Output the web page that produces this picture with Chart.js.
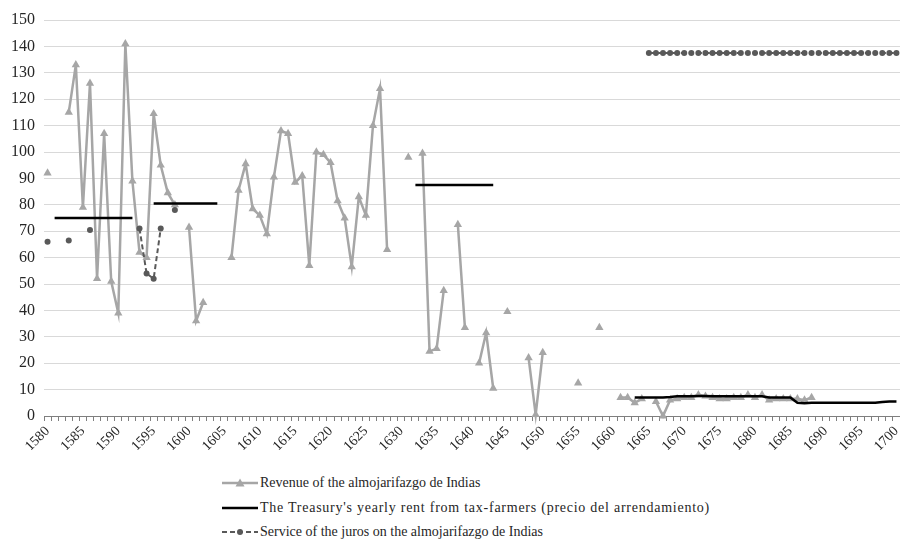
<!DOCTYPE html>
<html>
<head>
<meta charset="utf-8">
<script src="https://cdn.jsdelivr.net/npm/chart.js@4/dist/chart.umd.min.js"></script>
<style>
  html, body { margin: 0; padding: 0; background: #fff; }
  #wrap { position: relative; width: 900px; height: 544px; }
  #c { position: absolute; left: 0; top: 0; }
  #legend { position: absolute; left: 222px; top: 471px; font-family: "Liberation Serif", "DejaVu Serif", serif; font-size: 14px; color: #262626; }
  .row { height: 24.5px; display: flex; align-items: center; white-space: nowrap; }
  .row svg { margin-right: 2px; }
  .row.wide span { letter-spacing: 0.75px; }
</style>
</head>
<body>
<div id="wrap">
  <canvas id="c" width="900" height="450"></canvas>
  <div id="legend"></div>
</div>
<script>
const years = [];
for (let y = 1580; y <= 1700; y++) years.push(String(y));

const yTicks = [0, 10, 20, 30, 40, 50, 60, 70, 80, 90, 100, 110, 120, 130, 140, 150];

const seriesNames = [
  "Revenue of the almojarifazgo de Indias",
  "The Treasury's yearly rent from tax-farmers (precio del arrendamiento)",
  "Service of the juros on the almojarifazgo de Indias"
];

const revenue = [
  92, null, null, 115, 133, 79, 126, 52, 107, 51,
  39, 141, 89, 62, 60, 114.5, 95, 84.5, 80, null,
  71.5, 36, 43, null, null, null, 60, 85.5, 95.5, 78.5,
  76, 69, 90.5, 108, 107, 88.5, 91, 57, 100, 99,
  96, 81.5, 75, 56.5, 83, 76, 110, 124, 63, null,
  null, 98, null, 99.5, 24.5, 25.5, 47.5, null, 72.5, 33.5,
  null, 20, 31.5, 10.5, null, 39.5, null, null, 22, 0.5,
  24, null, null, null, null, 12.5, null, null, 33.5, null,
  null, 7, 7, 5, 6.5, null, 5.5, 0, 6, 6.5,
  7, 7, 8, 7.5, 7, 6.5, 6.5, 7, 7, 8,
  7, 8, 6, 6.5, 6.5, 6.5, 6.5, 6, 7, null,
  null, null, null, null, null, null, null, null, null, null,
  null
];

const rent = [
  null, 75, 75, 75, 75, 75, 75, 75, 75, 75,
  75, 75, 75, null, null, 80.5, 80.5, 80.5, 80.5, 80.5,
  80.5, 80.5, 80.5, 80.5, 80.5, null, null, null, null, null,
  null, null, null, null, null, null, null, null, null, null,
  null, null, null, null, null, null, null, null, null, null,
  null, null, 87.5, 87.5, 87.5, 87.5, 87.5, 87.5, 87.5, 87.5,
  87.5, 87.5, 87.5, 87.5, null, null, null, null, null, null,
  null, null, null, null, null, null, null, null, null, null,
  null, null, null, 7, 7, 7, 7, 7, 7.2, 7.5,
  7.5, 7.5, 7.6, 7.6, 7.5, 7.5, 7.5, 7.5, 7.5, 7.5,
  7.5, 7.5, 7, 7, 7, 7, 5, 4.8, 5, 5,
  5, 5, 5, 5, 5, 5, 5, 5, 5.3, 5.5,
  5.5
];

const juros = [
  66, null, null, 66.5, null, null, 70.5, null, null, null,
  null, null, null, 71, 54, 52, 71, null, 78, null,
  null, null, null, null, null, null, null, null, null, null,
  null, null, null, null, null, null, null, null, null, null,
  null, null, null, null, null, null, null, null, null, null,
  null, null, null, null, null, null, null, null, null, null,
  null, null, null, null, null, null, null, null, null, null,
  null, null, null, null, null, null, null, null, null, null,
  null, null, null, null, null, 137.5, 137.5, 137.5, 137.5, 137.5,
  137.5, 137.5, 137.5, 137.5, 137.5, 137.5, 137.5, 137.5, 137.5, 137.5,
  137.5, 137.5, 137.5, 137.5, 137.5, 137.5, 137.5, 137.5, 137.5, 137.5,
  137.5, 137.5, 137.5, 137.5, 137.5, 137.5, 137.5, 137.5, 137.5, 137.5,
  137.5
];

const GRAY = '#a6a6a6';
const DARK = '#595959';
const serif = '"Liberation Serif", "DejaVu Serif", serif';

new Chart(document.getElementById('c'), {
  type: 'line',
  data: {
    labels: years,
    datasets: [
      {
        label: seriesNames[0], data: revenue,
        borderColor: GRAY, backgroundColor: GRAY, borderWidth: 2.5,
        pointStyle: 'triangle', pointRadius: 4.8, pointBorderWidth: 0,
        spanGaps: false, tension: 0, order: 3, clip: false
      },
      {
        label: seriesNames[1], data: rent,
        borderColor: '#000', backgroundColor: '#000', borderWidth: 2.5,
        pointRadius: 0, spanGaps: false, tension: 0, order: 1, clip: false
      },
      {
        label: seriesNames[2], data: juros,
        borderColor: DARK, backgroundColor: DARK, borderWidth: 2,
        borderDash: [5, 3],
        pointStyle: 'circle', pointRadius: 3, pointBorderWidth: 0,
        spanGaps: false, tension: 0, order: 2, clip: false
      }
    ]
  },
  options: {
    responsive: false,
    animation: false,
    events: [],
    layout: { autoPadding: false, padding: { top: 20, right: 0, left: 0, bottom: 0 } },
    plugins: { legend: { display: false }, tooltip: { enabled: false } },
    scales: {
      x: {
        type: 'category',
        offset: true,
        grid: { offset: true, drawOnChartArea: false, drawTicks: true, tickLength: 5, color: '#7f7f7f', lineWidth: 1 },
        border: { display: true, color: '#7f7f7f', width: 1 },
        ticks: {
          autoSkip: false, minRotation: 45, maxRotation: 45, padding: 2,
          font: { family: serif, size: 14 }, color: '#262626',
          callback: function(v) { const l = this.getLabelForValue(v); return (Number(l) % 5 === 0) ? l : ''; }
        },
        afterFit: s => { s.height = 34; s.paddingLeft = 0; s.paddingRight = 0; }
      },
      y: {
        min: 0, max: 150,
        afterBuildTicks: s => { s.ticks = yTicks.map(v => ({ value: v })); },
        grid: { color: '#d9d9d9', lineWidth: 1, drawTicks: false },
        border: { display: false },
        ticks: { padding: 9, font: { family: serif, size: 16 }, color: '#262626' },
        afterFit: s => { s.width = 44; }
      }
    }
  }
});

// HTML legend
const legendSamples = [
  '<svg width="36" height="12"><line x1="0" y1="6" x2="36" y2="6" stroke="' + GRAY + '" stroke-width="2.5"/><polygon points="18,1.5 22.5,9.5 13.5,9.5" fill="' + GRAY + '"/></svg>',
  '<svg width="36" height="12"><line x1="0" y1="6" x2="36" y2="6" stroke="#000" stroke-width="2.5"/></svg>',
  '<svg width="36" height="12"><line x1="0" y1="6" x2="36" y2="6" stroke="' + DARK + '" stroke-width="2" stroke-dasharray="5,3"/><circle cx="18" cy="6" r="3" fill="' + DARK + '"/></svg>'
];
const lg = document.getElementById('legend');
seriesNames.forEach((n, i) => {
  const r = document.createElement('div');
  r.className = 'row' + (i === 1 ? ' wide' : '');
  r.innerHTML = legendSamples[i] + '<span>' + n + '</span>';
  lg.appendChild(r);
});
</script>
</body>
</html>
